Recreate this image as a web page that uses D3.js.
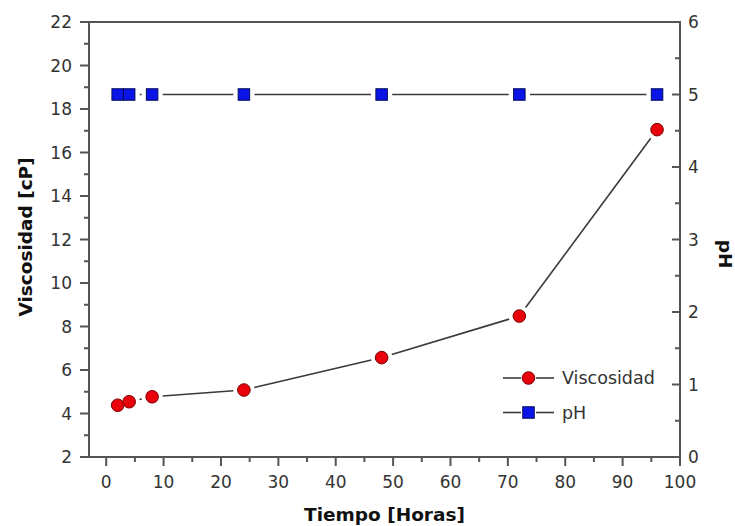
<!DOCTYPE html>
<html>
<head>
<meta charset="utf-8">
<script src="https://cdn.jsdelivr.net/npm/d3@7"></script>
<style>
  html, body { margin: 0; padding: 0; background: #fff; }
  svg { display: block; }
  text { font-family: "DejaVu Sans", Verdana, sans-serif; }
</style>
</head>
<body>
<svg id="chart" width="735" height="526"></svg>
<script>
// Sampling times (hours)
const tiempo = [2, 4, 8, 24, 48, 72, 96];
// Viscosity readings (cP)
const viscosidad = [4.38, 4.54, 4.77, 5.08, 6.57, 8.48, 17.05];
// pH readings
const ph = [5.0, 5.0, 5.0, 5.0, 5.0, 5.0, 5.0];

const xTicks = [0, 10, 20, 30, 40, 50, 60, 70, 80, 90, 100];
const yLeftTicks = [2, 4, 6, 8, 10, 12, 14, 16, 18, 20, 22];
const yRightTicks = [0, 1, 2, 3, 4, 5, 6];

const svg = d3.select("#chart");
const L = 89, R = 680, T = 22, B = 457;

const x = d3.scaleLinear().domain([-3, 100]).range([L, R]);
const yL = d3.scaleLinear().domain([2, 22]).range([B, T]);
const yR = d3.scaleLinear().domain([0, 6]).range([B, T]);

const axisColor = "#555";
const tickText = "#333";

// minor tick helpers (midpoints between majors)
const mids = arr => arr.slice(0, -1).map((v, i) => (v + arr[i + 1]) / 2);

const g = svg.append("g");

// bottom axis
const bx = g.append("g").attr("transform", `translate(0,${B})`);
bx.selectAll("line.maj").data(xTicks).join("line")
  .attr("x1", d => x(d)).attr("x2", d => x(d)).attr("y1", 0).attr("y2", 9)
  .attr("stroke", axisColor).attr("stroke-width", 2);
bx.selectAll("line.min").data(mids(xTicks)).join("line")
  .attr("x1", d => x(d)).attr("x2", d => x(d)).attr("y1", 0).attr("y2", 5)
  .attr("stroke", axisColor).attr("stroke-width", 2);
bx.selectAll("text").data(xTicks).join("text")
  .attr("x", d => x(d)).attr("y", 31)
  .attr("text-anchor", "middle").attr("font-size", 17).attr("fill", tickText)
  .text(d => d);

// left axis
const lx = g.append("g").attr("transform", `translate(${L},0)`);
lx.selectAll("line.maj").data(yLeftTicks).join("line")
  .attr("x1", -9).attr("x2", 0).attr("y1", d => yL(d)).attr("y2", d => yL(d))
  .attr("stroke", axisColor).attr("stroke-width", 2);
lx.selectAll("line.min").data(mids(yLeftTicks)).join("line")
  .attr("x1", -5).attr("x2", 0).attr("y1", d => yL(d)).attr("y2", d => yL(d))
  .attr("stroke", axisColor).attr("stroke-width", 2);
lx.selectAll("text").data(yLeftTicks).join("text")
  .attr("x", -17).attr("y", d => yL(d)).attr("dy", "0.36em")
  .attr("text-anchor", "end").attr("font-size", 17).attr("fill", tickText)
  .text(d => d);

// right axis (ticks point inward)
const rx = g.append("g").attr("transform", `translate(${R},0)`);
rx.selectAll("line.maj").data(yRightTicks).join("line")
  .attr("x1", -8).attr("x2", 0).attr("y1", d => yR(d)).attr("y2", d => yR(d))
  .attr("stroke", axisColor).attr("stroke-width", 2);
rx.selectAll("line.min").data(mids(yRightTicks)).join("line")
  .attr("x1", -5).attr("x2", 0).attr("y1", d => yR(d)).attr("y2", d => yR(d))
  .attr("stroke", axisColor).attr("stroke-width", 2);
rx.selectAll("text").data(yRightTicks).join("text")
  .attr("x", 8).attr("y", d => yR(d)).attr("dy", "0.36em")
  .attr("text-anchor", "start").attr("font-size", 17).attr("fill", tickText)
  .text(d => d);

// frame lines
g.append("path")
  .attr("d", `M${L},${B}V${T}H${R}V${B}H${L}`)
  .attr("fill", "none").attr("stroke", axisColor).attr("stroke-width", 2);

// axis titles
svg.append("text")
  .attr("x", x(48.5)).attr("y", 521)
  .attr("text-anchor", "middle").attr("font-size", 18.5).attr("font-weight", "bold")
  .attr("fill", "#111").text("Tiempo [Horas]");
svg.append("text")
  .attr("transform", `translate(32,237) rotate(-90)`)
  .attr("text-anchor", "middle").attr("font-size", 18.5).attr("font-weight", "bold")
  .attr("fill", "#111").text("Viscosidad [cP]");
svg.append("text")
  .attr("transform", `translate(719,254) rotate(90)`)
  .attr("text-anchor", "middle").attr("font-size", 18.5).attr("font-weight", "bold")
  .attr("fill", "#111").text("pH");

// connecting lines with a gap around each marker
function gappedLines(pts, gap) {
  const segs = [];
  for (let i = 0; i < pts.length - 1; i++) {
    const [x1, y1] = pts[i], [x2, y2] = pts[i + 1];
    const dx = x2 - x1, dy = y2 - y1, len = Math.hypot(dx, dy);
    if (len <= 2 * gap) continue;
    const ux = dx / len, uy = dy / len;
    segs.push([x1 + ux * gap, y1 + uy * gap, x2 - ux * gap, y2 - uy * gap]);
  }
  return segs;
}

const visPts = tiempo.map((t, i) => [x(t), yL(viscosidad[i])]);
const phPts = tiempo.map((t, i) => [x(t), yR(ph[i])]);

const lineColor = "#3a3a3a";
[visPts, phPts].forEach(pts => {
  g.append("g").selectAll("line").data(gappedLines(pts, 10.6)).join("line")
    .attr("x1", d => d[0]).attr("y1", d => d[1]).attr("x2", d => d[2]).attr("y2", d => d[3])
    .attr("stroke", lineColor).attr("stroke-width", 1.6);
});

// markers
const red = "#e8000b", redStroke = "#7a0000";
const blue = "#0a14e6", blueStroke = "#000a5a";
const sq = 11.5;

g.append("g").selectAll("circle").data(visPts).join("circle")
  .attr("cx", d => d[0]).attr("cy", d => d[1]).attr("r", 6.3)
  .attr("fill", red).attr("stroke", redStroke).attr("stroke-width", 1);

g.append("g").selectAll("rect").data(phPts).join("rect")
  .attr("x", d => d[0] - sq / 2).attr("y", d => d[1] - sq / 2)
  .attr("width", sq).attr("height", sq)
  .attr("fill", blue).attr("stroke", blueStroke).attr("stroke-width", 1);

// legend
const legend = svg.append("g");
const items = [
  { label: "Viscosidad", shape: "circle", cy: 378 },
  { label: "pH", shape: "square", cy: 412.5 }
];
items.forEach(it => {
  legend.append("line").attr("x1", 503).attr("x2", 521).attr("y1", it.cy).attr("y2", it.cy)
    .attr("stroke", lineColor).attr("stroke-width", 1.6);
  legend.append("line").attr("x1", 536).attr("x2", 554).attr("y1", it.cy).attr("y2", it.cy)
    .attr("stroke", lineColor).attr("stroke-width", 1.6);
  if (it.shape === "circle") {
    legend.append("circle").attr("cx", 528.5).attr("cy", it.cy).attr("r", 6.3)
      .attr("fill", red).attr("stroke", redStroke).attr("stroke-width", 1);
  } else {
    legend.append("rect").attr("x", 528.5 - sq / 2).attr("y", it.cy - sq / 2)
      .attr("width", sq).attr("height", sq)
      .attr("fill", blue).attr("stroke", blueStroke).attr("stroke-width", 1);
  }
  legend.append("text").attr("x", 562).attr("y", it.cy).attr("dy", "0.36em")
    .attr("font-size", 17.5).attr("fill", tickText).text(it.label);
});
</script>
</body>
</html>
